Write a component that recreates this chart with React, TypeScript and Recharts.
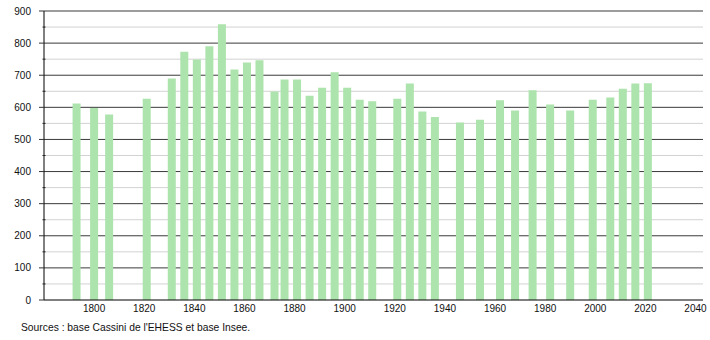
import React from 'react';
import { BarChart, Bar, XAxis, YAxis, CartesianGrid } from 'recharts';

const years = [
  1793, 1800, 1806, 1821, 1831, 1836, 1841, 1846, 1851, 1856, 1861, 1866, 1872,
  1876, 1881, 1886, 1891, 1896, 1901, 1906, 1911, 1921, 1926, 1931, 1936, 1946,
  1954, 1962, 1968, 1975, 1982, 1990, 1999, 2006, 2011, 2016, 2021,
];
const population = [
  612, 598, 578, 627, 690, 773, 749, 790, 859, 718, 740, 747, 649,
  687, 687, 636, 661, 709, 661, 624, 619, 627, 674, 587, 570, 553,
  561, 622, 590, 653, 609, 590, 624, 631, 658, 674, 675,
];
const xTicks = [1800, 1820, 1840, 1860, 1880, 1900, 1920, 1940, 1960, 1980, 2000, 2020, 2040];
const yMajor = [0, 100, 200, 300, 400, 500, 600, 700, 800, 900];
const yMinor = [50, 150, 250, 350, 450, 550, 650, 750, 850];
const yTicks = [...yMajor, ...yMinor].sort((a, b) => a - b);
const sourceText = "Sources : base Cassini de l'EHESS et base Insee.";

const data = years.map((y, i) => ({ year: y, pop: population[i] }));

const TICK_SIZE = 5;
const TICK_MARGIN = 8;

const YTick = (props: any) => {
  const { x, y, payload } = props;
  const v = payload.value;
  const axisX = x + TICK_MARGIN + TICK_SIZE;
  if (v % 100 !== 0) {
    return <line x1={axisX - 1.5} x2={axisX + 1.5} y1={y} y2={y} stroke="#222" strokeWidth={1} />;
  }
  return (
    <g>
      <line x1={axisX - TICK_SIZE} x2={axisX} y1={y} y2={y} stroke="#333" strokeWidth={1} />
      <text x={x} y={y} dy="0.355em" textAnchor="end" fontSize={10} fill="#111">
        {v}
      </text>
    </g>
  );
};

export default function App() {
  return (
    <div
      style={{
        position: 'absolute',
        left: 0,
        top: 0,
        width: 710,
        height: 340,
        background: '#fff',
        fontFamily: '"Liberation Sans", Arial, sans-serif',
      }}
    >
      <BarChart
        width={710}
        height={340}
        data={data}
        margin={{ top: 11, right: 7, left: 0, bottom: 20 }}
      >
        <CartesianGrid vertical={false} horizontalValues={yMinor} stroke="#d2d2d2" />
        <CartesianGrid vertical={false} horizontalValues={yMajor.filter((v) => v > 0)} stroke="#3a3a3a" />
        <XAxis
          dataKey="year"
          type="number"
          domain={[1780, 2043]}
          ticks={xTicks}
          interval={0}
          tickLine={false}
          tickSize={0}
          tickMargin={5}
          height={20}
          axisLine={{ stroke: '#000' }}
          tick={{ fontSize: 10, fill: '#111' }}
          allowDataOverflow
        />
        <YAxis
          type="number"
          domain={[0, 900]}
          ticks={yTicks}
          interval={0}
          width={44}
          tickSize={TICK_SIZE}
          tickMargin={TICK_MARGIN}
          tickLine={false}
          axisLine={{ stroke: '#000' }}
          tick={<YTick />}
        />
        <Bar dataKey="pop" fill="#ade3ad" barSize={8} isAnimationActive={false} />
      </BarChart>
      <div
        style={{
          position: 'absolute',
          left: 21,
          top: 322,
          fontSize: 10.3,
          color: '#111',
          whiteSpace: 'nowrap',
          lineHeight: '12px',
        }}
      >
        {sourceText}
      </div>
    </div>
  );
}
